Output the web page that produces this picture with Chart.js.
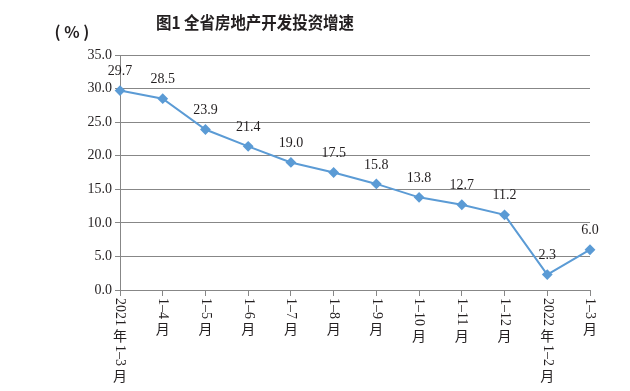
<!DOCTYPE html>
<html>
<head>
<meta charset="utf-8">
<script src="https://cdn.jsdelivr.net/npm/chart.js@4"></script>
<style>
  html, body { margin: 0; padding: 0; background: #fff; }
  #wrap { width: 630px; height: 391px; position: relative; }
</style>
</head>
<body>
<div id="wrap"><canvas id="investChart"></canvas></div>
<script>
// categories on the x axis (tick labels)
const categories = ['2021年1–3月', '1–4月', '1–5月', '1–6月', '1–7月', '1–8月', '1–9月', '1–10月', '1–11月', '1–12月', '2022年1–2月', '1–3月'];
// growth rate of real estate investment (%)
const growth = [29.7, 28.5, 23.9, 21.4, 19.0, 17.5, 15.8, 13.8, 12.7, 11.2, 2.3, 6.0];
const titleText = '图1 全省房地产开发投资增速';
const unitText = '( % )';

const serifFont = '"Liberation Serif", "DejaVu Serif", serif';
const cjkFont = '"Noto Sans CJK SC", sans-serif';
const textColor = '#231f20';
const axisColor = '#878787';
const lineColor = '#5b9bd5';

// draws title, unit, value labels and vertical x labels
const extrasPlugin = {
  id: 'extras',
  afterDraw(chart) {
    const ctx = chart.ctx;
    const xScale = chart.scales.x;
    const meta = chart.getDatasetMeta(0);
    ctx.save();
    ctx.fillStyle = textColor;

    // title
    ctx.font = 'bold 17px ' + cjkFont;
    ctx.textAlign = 'center';
    ctx.textBaseline = 'middle';
    ctx.fillText(titleText, 255, 23, 198);

    // unit
    ctx.font = 'bold 16px ' + cjkFont;
    ctx.fillText(unitText, 72, 32);

    // value labels above the points
    ctx.font = '14px ' + serifFont;
    meta.data.forEach((pt, i) => {
      ctx.fillText(growth[i].toFixed(1), pt.x, pt.y - 19);
    });

    // vertical x labels: CJK upright, digits rotated clockwise
    categories.forEach((label, i) => {
      const x = xScale.getPixelForValue(i);
      let y = 298;
      const runs = label.match(/[\u4e00-\u9fff]|[^\u4e00-\u9fff]+/g);
      runs.forEach(run => {
        if (/[\u4e00-\u9fff]/.test(run)) {
          ctx.font = '14px ' + cjkFont;
          ctx.textAlign = 'center';
          ctx.textBaseline = 'middle';
          ctx.fillText(run, x, y + 9);
          y += 18;
        } else {
          ctx.font = '14px ' + serifFont;
          const w = ctx.measureText(run).width;
          ctx.save();
          ctx.translate(x, y);
          ctx.rotate(Math.PI / 2);
          ctx.textAlign = 'left';
          ctx.textBaseline = 'middle';
          ctx.fillText(run, 0, 0);
          ctx.restore();
          y += w + 1;
        }
      });
    });
    ctx.restore();
  }
};

const config = {
  type: 'line',
  data: {
    labels: categories,
    datasets: [{
      label: '增速',
      data: growth,
      borderColor: lineColor,
      backgroundColor: lineColor,
      borderWidth: 2,
      pointStyle: 'rectRot',
      pointRadius: 4,
      pointBackgroundColor: lineColor,
      pointBorderColor: lineColor,
      tension: 0,
      fill: false
    }]
  },
  options: {
    responsive: true,
    maintainAspectRatio: false,
    animation: false,
    layout: {
      padding: { top: 55, right: 40, left: 0, bottom: 0 }
    },
    scales: {
      x: {
        offset: false,
        grid: {
          display: true,
          drawOnChartArea: false,
          color: axisColor,
          tickLength: 6
        },
        border: { color: axisColor },
        ticks: { display: false },
        afterFit(scale) { scale.height = 101; }
      },
      y: {
        min: 0,
        max: 35,
        ticks: {
          stepSize: 5,
          color: textColor,
          padding: 3,
          font: { family: serifFont, size: 14 },
          callback: v => v.toFixed(1)
        },
        grid: { color: axisColor, tickLength: 5 },
        border: { color: axisColor },
        afterFit(scale) { scale.width = 120; }
      }
    },
    plugins: {
      legend: { display: false },
      title: { display: false },
      tooltip: { enabled: false }
    }
  },
  plugins: [extrasPlugin]
};

new Chart(document.getElementById('investChart').getContext('2d'), config);
</script>
</body>
</html>
